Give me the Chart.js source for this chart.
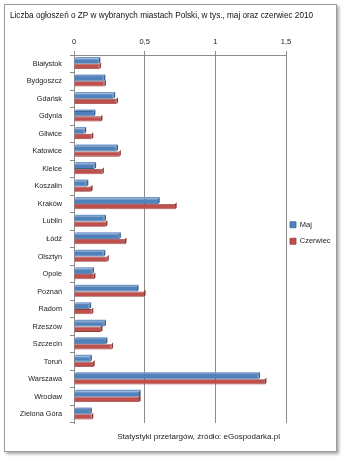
<!DOCTYPE html>
<html lang="pl">
<head>
<meta charset="utf-8">
<title>Liczba ogłoszeń o ZP</title>
<script src="https://cdn.jsdelivr.net/npm/chart.js@4.4.1/dist/chart.umd.min.js"></script>
<style>
  html, body { margin: 0; padding: 0; background: #ffffff; }
  body { width: 343px; height: 460px; position: relative; overflow: hidden; }
  #frame {
    position: absolute; left: 4px; top: 4px; width: 331px; height: 446px;
    border: 1px solid #9a9a9a; background: #ffffff;
    box-shadow: 2px 2px 3px rgba(0,0,0,0.35);
  }
  canvas { display: block; }
</style>
</head>
<body>
<div id="frame"><canvas id="chart" width="331" height="446"></canvas></div>
<script>
// Cities, in thousands of public procurement notices
const categories = [
  'Białystok', 'Bydgoszcz', 'Gdańsk', 'Gdynia', 'Gliwice', 'Katowice', 'Kielce',
  'Koszalin', 'Kraków', 'Lublin', 'Łódź', 'Olsztyn', 'Opole', 'Poznań', 'Radom',
  'Rzeszów', 'Szczecin', 'Toruń', 'Warszawa', 'Wrocław', 'Zielona Góra'
];
const majValues = [
  0.175, 0.21, 0.28, 0.14, 0.075, 0.30, 0.145,
  0.09, 0.595, 0.215, 0.32, 0.21, 0.13, 0.445, 0.11,
  0.215, 0.225, 0.115, 1.305, 0.46, 0.115
];
const czerwiecValues = [
  0.18, 0.215, 0.30, 0.19, 0.125, 0.32, 0.20,
  0.12, 0.715, 0.225, 0.36, 0.235, 0.14, 0.495, 0.125,
  0.19, 0.265, 0.135, 1.35, 0.46, 0.125
];
const xTickValues = [0, 0.5, 1, 1.5];
const seriesNames = ['Maj', 'Czerwiec'];

const titleText = 'Liczba ogłoszeń o ZP w wybranych miastach Polski, w tys., maj oraz czerwiec 2010';
const footerText = 'Statystyki przetargów, źródło: eGospodarka.pl';

const FONT = "'Liberation Sans', Arial, sans-serif";
const AXIS_GREY = '#8c8c8c';

// Adds a shallow extruded end (and a lit top on the upper bar) for a 3-D look
const barDepth = {
  id: 'barDepth',
  afterDatasetsDraw(chart) {
    const ctx = chart.ctx;
    const d = 1.6;
    const sides = ['#385D8A', '#8C3836'];
    const tops = ['#7098CC', '#CC6F6C'];
    for (let i = chart.data.datasets.length - 1; i >= 0; i--) {
      const meta = chart.getDatasetMeta(i);
      meta.data.forEach(bar => {
        const p = bar.getProps(['x', 'y', 'base', 'height'], true);
        const top = p.y - p.height / 2;
        const bottom = p.y + p.height / 2;
        ctx.save();
        if (i === 0) {
          ctx.fillStyle = tops[i];
          ctx.beginPath();
          ctx.moveTo(p.base, top);
          ctx.lineTo(p.x, top);
          ctx.lineTo(p.x + d, top - d);
          ctx.lineTo(p.base + d, top - d);
          ctx.closePath();
          ctx.fill();
        }
        ctx.fillStyle = sides[i];
        ctx.beginPath();
        ctx.moveTo(p.x, top);
        ctx.lineTo(p.x + d, top - d);
        ctx.lineTo(p.x + d, bottom - d);
        ctx.lineTo(p.x, bottom);
        ctx.closePath();
        ctx.fill();
        ctx.restore();
      });
    }
  }
};

// Source note under the plot
const footerNote = {
  id: 'footerNote',
  afterDraw(chart) {
    const ctx = chart.ctx;
    ctx.save();
    ctx.font = '8px ' + FONT;
    ctx.fillStyle = '#222222';
    ctx.textAlign = 'center';
    ctx.textBaseline = 'middle';
    ctx.fillText(footerText, chart.width * 0.585, chart.height - 14);
    ctx.restore();
  }
};

// Nudges the legend a little towards the plot
const legendNudge = {
  id: 'legendNudge',
  afterLayout(chart) {
    const lg = chart.legend;
    if (lg) { lg.left -= 5; lg.right -= 5; }
  }
};

new Chart(document.getElementById('chart'), {
  type: 'bar',
  data: {
    labels: categories,
    datasets: [
      {
        label: seriesNames[0],
        data: majValues,
        backgroundColor: '#4F81BD',
        borderColor: '#3A6494',
        borderWidth: 0.8
      },
      {
        label: seriesNames[1],
        data: czerwiecValues,
        backgroundColor: '#C0504D',
        borderColor: '#963C3A',
        borderWidth: 0.8
      }
    ]
  },
  options: {
    indexAxis: 'y',
    responsive: false,
    animation: false,
    devicePixelRatio: 1,
    layout: { padding: { left: 5, right: 0, top: 0, bottom: 28 } },
    datasets: {
      bar: { categoryPercentage: 0.6, barPercentage: 1 }
    },
    scales: {
      x: {
        position: 'top',
        min: xTickValues[0],
        max: xTickValues[xTickValues.length - 1],
        afterBuildTicks(scale) {
          scale.ticks = xTickValues.map(v => ({ value: v }));
        },
        afterFit(scale) { scale.height = 35; },
        ticks: {
          font: { family: FONT, size: 7.5 },
          color: '#222222',
          padding: 5,
          callback: v => String(v).replace('.', ',')
        },
        grid: { color: AXIS_GREY, lineWidth: 1, tickLength: 4 },
        border: { color: AXIS_GREY }
      },
      y: {
        afterFit(scale) { scale.width = 64; },
        ticks: {
          font: { family: FONT, size: 7.3 },
          color: '#222222',
          padding: 8
        },
        grid: {
          offset: true,
          drawOnChartArea: false,
          drawTicks: true,
          tickLength: 4,
          color: AXIS_GREY
        },
        border: { color: AXIS_GREY }
      }
    },
    plugins: {
      title: {
        display: true,
        text: titleText,
        align: 'start',
        color: '#111111',
        font: { family: FONT, size: 8.2, weight: 'normal', lineHeight: 1.1 },
        padding: { top: 6, bottom: 0 }
      },
      legend: {
        position: 'right',
        maxWidth: 50,
        title: {
          display: true,
          text: ' ',
          font: { family: FONT, size: 7.5, lineHeight: 1.2 },
          padding: { top: 0, bottom: 29 }
        },
        labels: {
          boxWidth: 6,
          boxHeight: 6,
          padding: 9,
          color: '#222222',
          font: { family: FONT, size: 7.5 }
        }
      },
      tooltip: { enabled: false }
    }
  },
  plugins: [barDepth, footerNote, legendNudge]
});
</script>
</body>
</html>
